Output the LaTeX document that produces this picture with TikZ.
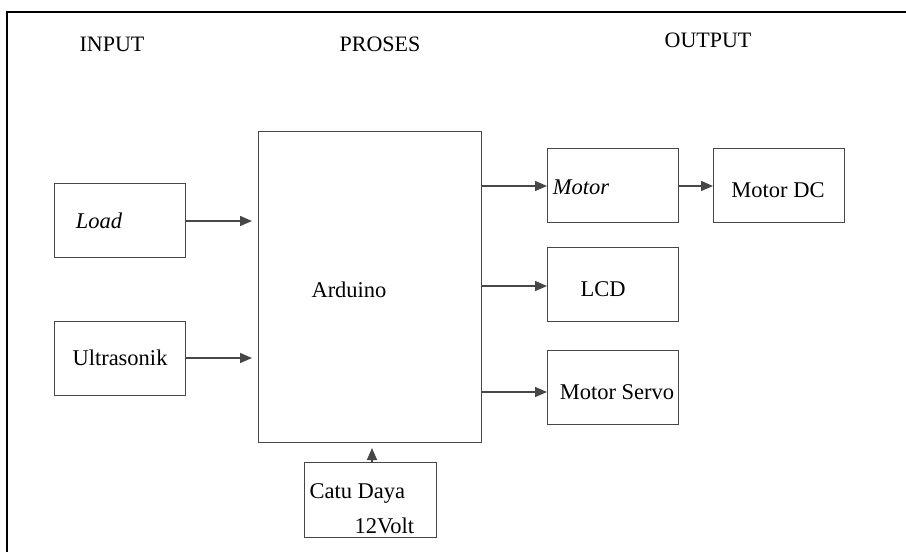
\documentclass[tikz,border=0pt]{standalone}
\usepackage{fontspec}
\setmainfont{Liberation Serif}
\usetikzlibrary{arrows.meta}
\begin{document}
\begin{tikzpicture}[x=1pt,y=-1pt,
  blk/.style={draw=black!72, line width=1.3pt, fill=white, inner sep=0pt, anchor=north west},
  txt/.style={font=\fontsize{22.5}{26}\selectfont},
  conn/.style={draw=black!72, line width=1.5pt, -{Triangle[length=12pt,width=10pt]}},
  hdr/.style={font=\fontsize{22}{26}\selectfont}]
\useasboundingbox (0,0) rectangle (906,552);
\draw[line width=2.5pt] (7,552) -- (7,12) -- (906,12);
\node[hdr] (tin) at (112,44) {INPUT};
\node[hdr] (tpr) at (380,44) {PROSES};
\node[hdr] (tout) at (708,40) {OUTPUT};
% boxes
\node[blk, minimum width=131pt, minimum height=74pt] (load) at (54,183) {};
\node[txt, font=\fontsize{22.5}{26}\selectfont\itshape] (loadt) at (99,221) {Load};
\node[blk, minimum width=131pt, minimum height=74pt] (ultra) at (54,321) {};
\node[txt] (ultrat) at (120,358) {Ultrasonik};
\node[blk, minimum width=223pt, minimum height=311pt] (ard) at (258,131) {};
\node[txt] (ardt) at (349,290) {Arduino};
\node[blk, minimum width=131pt, minimum height=74pt] (motor) at (547,148) {};
\node[txt, font=\fontsize{22.5}{26}\selectfont\itshape] (motort) at (581,187) {Motor};
\node[blk, minimum width=131pt, minimum height=74pt] (mdc) at (713,148) {};
\node[txt] (mdct) at (778,190) {Motor DC};
\node[blk, minimum width=131pt, minimum height=74pt] (lcd) at (547,247) {};
\node[txt] (lcdt) at (603,289) {LCD};
\node[blk, minimum width=131pt, minimum height=74pt] (servo) at (547,350) {};
\node[txt] (servot) at (617,392) {Motor Servo};
\node[blk, minimum width=132pt, minimum height=75pt] (catu) at (304,462) {};
\node[txt, anchor=west] (catut1) at (306,493) {Catu Daya};
\node[txt, anchor=west] (catut2) at (351,526) {12Volt};
% connectors
\coordinate (loadend) at (252,221);
\coordinate (ultraend) at (252,358);
\coordinate (catuend) at (372,448);
\draw[conn] (load.east |- 0,221) -- (loadend);
\draw[conn] (ultra.east |- 0,358) -- (ultraend);
\draw[conn] (ard.east |- 0,186) -- (motor.west |- 0,186);
\draw[conn] (motor.east |- 0,186) -- (mdc.west |- 0,186);
\draw[conn] (ard.east |- 0,286) -- (lcd.west |- 0,286);
\draw[conn] (ard.east |- 0,392) -- (servo.west |- 0,392);
\draw[conn] (catu.north -| 372,0) -- (catuend);
\end{tikzpicture}
\end{document}
